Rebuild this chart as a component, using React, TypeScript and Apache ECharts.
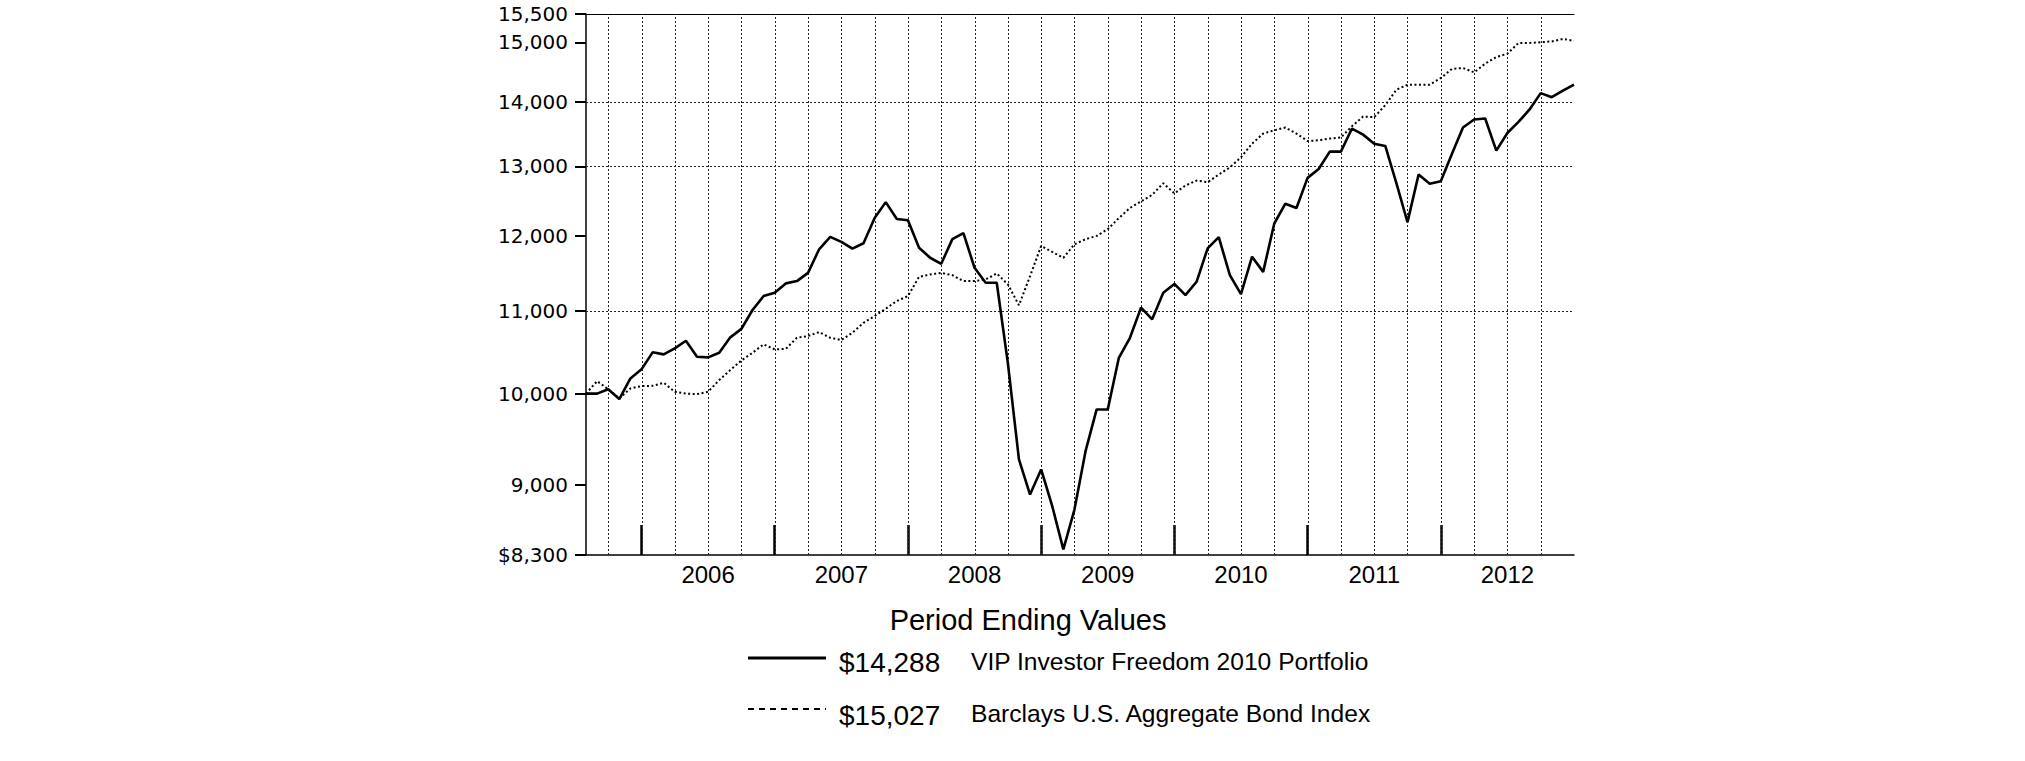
import React, { useEffect, useRef } from 'react';
import * as echarts from 'echarts';

// Period-ending values: first point is the start value (July 31, 2005), then one per month to Dec 2012
const START_YEAR = 2005;
const START_MONTH = 7;

const fundValues: number[] = [
  10000, 10000, 10050, 9937, 10177, 10284, 10488, 10463, 10536, 10629,
  10434, 10427, 10483, 10671, 10776, 11013, 11192, 11235, 11357, 11387,
  11496, 11813, 11984, 11914, 11821, 11896, 12247, 12474, 12233, 12215,
  11835, 11698, 11617, 11952, 12035, 11563, 11366, 11366, 10362, 9269,
  8900, 9162, 8781, 8354, 8747, 9357, 9819, 9819, 10422, 10666,
  11043, 10896, 11235, 11350, 11205, 11378, 11826, 11979, 11465, 11218,
  11712, 11509, 12170, 12451, 12390, 12828, 12960, 13223, 13223, 13580,
  13485, 13345, 13310, 12750, 12189, 12877, 12740, 12779, 13187, 13596,
  13722, 13738, 13238, 13510, 13685, 13883, 14147, 14080, 14186, 14288,
];

const indexValues: number[] = [
  10000, 10145, 10050, 9945, 10060, 10087, 10090, 10126, 10021, 10000,
  9994, 10021, 10157, 10275, 10390, 10483, 10585, 10524, 10530, 10666,
  10687, 10736, 10666, 10638, 10727, 10852, 10937, 11029, 11129, 11192,
  11443, 11474, 11496, 11465, 11387, 11387, 11409, 11488, 11344, 11074,
  11452, 11858, 11777, 11698, 11881, 11952, 11997, 12090, 12247, 12390,
  12484, 12580, 12749, 12600, 12715, 12788, 12764, 12877, 12985, 13136,
  13345, 13501, 13553, 13596, 13501, 13386, 13397, 13424, 13440, 13616,
  13770, 13759, 13952, 14202, 14285, 14285, 14285, 14396, 14547, 14563,
  14490, 14636, 14749, 14805, 14990, 14990, 15002, 15017, 15060, 15027,
];

const yTickValues = [8300, 9000, 10000, 11000, 12000, 13000, 14000, 15000, 15500];
const yGridValues = [11000, 13000, 14000];
const yearLabels = [2006, 2007, 2008, 2009, 2010, 2011, 2012];
const END_YEAR = 2013;

const legendTitle = 'Period Ending Values';
const fundName = 'VIP Investor Freedom 2010 Portfolio';
const indexName = 'Barclays U.S. Aggregate Bond Index';
const fundEnding = '$14,288';
const indexEnding = '$15,027';

const ARIAL = "'Liberation Sans', Arial, sans-serif";
const WIDE = "'DejaVu Sans', Verdana, sans-serif";

const xOf = (i: number) => START_YEAR + START_MONTH / 12 + i / 12;
const lg = (v: number) => Math.log10(v);

export default function App() {
  const ref = useRef<HTMLDivElement>(null);

  useEffect(() => {
    document.body.style.margin = '0';
    if (!ref.current) return;
    const chart = echarts.init(ref.current, null, { renderer: 'svg' });

    const xMin = xOf(0);
    const xMax = END_YEAR;
    const quarters: number[] = [];
    for (let k = Math.ceil(xMin * 4); k < xMax * 4; k++) quarters.push(k / 4);

    const yMin = lg(yTickValues[0]);
    const yMax = lg(yTickValues[yTickValues.length - 1]);
    const yTicks = yTickValues.map((v) => lg(v));

    const fmtY = (v: number) => {
      const n = Math.round(Math.pow(10, v));
      const s = n.toLocaleString('en-US');
      return n === yTickValues[0] ? '$' + s : s;
    };

    const gridLineStyle = { stroke: '#222', lineWidth: 1, lineDash: [2, 2] };
    const crisp = (v: number) => Math.round(v) + 0.5;

    chart.setOption({
      animation: false,
      backgroundColor: '#fff',
      grid: { left: 586, top: 14, width: 988, height: 541, containLabel: false },
      xAxis: [
        {
          type: 'value',
          min: xMin,
          max: xMax,
          axisLine: { show: true, onZero: false, lineStyle: { color: '#000', width: 1.5 } },
          axisTick: {
            show: true,
            inside: true,
            length: 30,
            customValues: yearLabels.slice(),
            lineStyle: { color: '#000', width: 2.5 },
          },
          axisLabel: {
            customValues: yearLabels.map((y) => y + 0.5),
            formatter: (v: number) => String(Math.floor(v)),
            fontFamily: ARIAL,
            fontSize: 24,
            color: '#000',
            margin: 7,
          },
          splitLine: { show: false },
          minorSplitLine: { show: false },
        },
        {
          type: 'value',
          position: 'top',
          min: xMin,
          max: xMax,
          axisLine: { show: true, onZero: false, lineStyle: { color: '#000', width: 1.2 } },
          axisTick: { show: false },
          axisLabel: { show: false },
          splitLine: { show: false },
          minorSplitLine: { show: false },
        },
      ],
      yAxis: {
        type: 'value',
        min: yMin - 1e-9,
        max: yMax + 1e-9,
        axisLine: { show: true, onZero: false, lineStyle: { color: '#000', width: 1.5 } },
        axisTick: {
          show: true,
          length: 11,
          customValues: yTicks,
          lineStyle: { color: '#000', width: 2 },
        },
        axisLabel: {
          customValues: yTicks,
          formatter: fmtY,
          fontFamily: WIDE,
          fontSize: 20,
          color: '#000',
          margin: 18,
        },
        splitLine: { show: false },
        minorSplitLine: { show: false },
      },
      series: [
        {
          name: 'quarterGrid',
          type: 'custom',
          silent: true,
          z: 1,
          clip: false,
          data: quarters.map((q) => [q, yMin]),
          renderItem: (_p: any, api: any) => {
            const x = api.value(0);
            const a = api.coord([x, yMin]);
            const b = api.coord([x, yMax]);
            return {
              type: 'line',
              shape: { x1: crisp(a[0]), y1: a[1], x2: crisp(b[0]), y2: b[1] },
              style: gridLineStyle,
            };
          },
        },
        {
          name: 'valueGrid',
          type: 'custom',
          silent: true,
          z: 1,
          clip: false,
          data: yGridValues.map((v) => [xMin, lg(v)]),
          renderItem: (_p: any, api: any) => {
            const y = api.value(1);
            const a = api.coord([xMin, y]);
            const b = api.coord([xMax, y]);
            return {
              type: 'line',
              shape: { x1: a[0], y1: crisp(a[1]), x2: b[0], y2: crisp(b[1]) },
              style: gridLineStyle,
            };
          },
        },
        {
          name: indexName,
          type: 'line',
          data: indexValues.map((v, i) => [xOf(i), lg(v)]),
          symbol: 'none',
          showSymbol: false,
          lineStyle: { color: '#000', width: 2, type: [2, 2.5] },
          z: 2,
        },
        {
          name: fundName,
          type: 'line',
          data: fundValues.map((v, i) => [xOf(i), lg(v)]),
          symbol: 'none',
          showSymbol: false,
          lineStyle: { color: '#000', width: 2.6 },
          z: 3,
        },
      ],
      graphic: [
        {
          type: 'text',
          x: 1028,
          y: 620,
          style: {
            text: legendTitle,
            fill: '#000',
            font: `29px ${ARIAL}`,
            align: 'center',
            verticalAlign: 'middle',
          },
        },
        {
          type: 'line',
          shape: { x1: 748, y1: 658, x2: 826, y2: 658 },
          style: { stroke: '#000', lineWidth: 3 },
        },
        {
          type: 'text',
          x: 839,
          y: 662,
          style: { text: fundEnding, fill: '#000', font: `28px ${ARIAL}`, align: 'left', verticalAlign: 'middle' },
        },
        {
          type: 'text',
          x: 971,
          y: 661,
          style: { text: fundName, fill: '#000', font: `24.6px ${ARIAL}`, align: 'left', verticalAlign: 'middle' },
        },
        {
          type: 'line',
          shape: { x1: 748, y1: 709, x2: 826, y2: 709 },
          style: { stroke: '#000', lineWidth: 2, lineDash: [6, 5] },
        },
        {
          type: 'text',
          x: 839,
          y: 715,
          style: { text: indexEnding, fill: '#000', font: `28px ${ARIAL}`, align: 'left', verticalAlign: 'middle' },
        },
        {
          type: 'text',
          x: 971,
          y: 713,
          style: { text: indexName, fill: '#000', font: `24.6px ${ARIAL}`, align: 'left', verticalAlign: 'middle' },
        },
      ],
    });

    return () => chart.dispose();
  }, []);

  return <div ref={ref} style={{ width: 2025, height: 761 }} />;
}
